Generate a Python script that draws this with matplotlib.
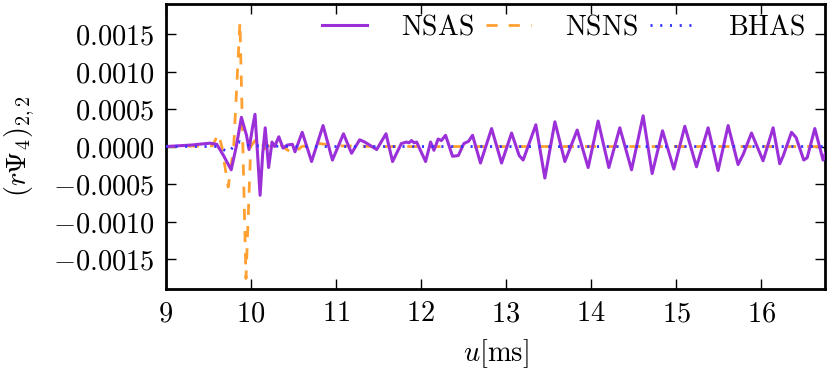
import numpy as np
import matplotlib
matplotlib.use('Agg')
import matplotlib.pyplot as plt
from matplotlib.ticker import FuncFormatter, MultipleLocator

plt.rcParams['mathtext.fontset'] = 'cm'
plt.rcParams['font.family'] = 'serif'
plt.rcParams['lines.scale_dashes'] = False

# waveforms, values in units of 1e-4
u_nsas = [9.00, 9.30, 9.52, 9.60, 9.68, 9.77, 9.83, 9.89, 9.95, 9.98, 10.02, 10.05,
          10.08, 10.11, 10.14, 10.17, 10.21, 10.25, 10.28, 10.33, 10.38, 10.43, 10.49,
          10.52, 10.605, 10.715, 10.85, 10.96, 11.09, 11.185, 11.28, 11.34, 11.48,
          11.59, 11.667, 11.77, 11.83, 11.86, 11.89, 11.92, 11.95, 12.055, 12.114,
          12.153, 12.203, 12.24, 12.29, 12.372, 12.44, 12.505, 12.56, 12.607, 12.70,
          12.831, 12.948, 13.066, 13.155, 13.202, 13.351, 13.457, 13.575, 13.692,
          13.837, 13.966, 14.083, 14.209, 14.338, 14.476, 14.612, 14.718, 14.84,
          14.973, 15.102, 15.239, 15.376, 15.493, 15.611, 15.728, 15.79, 15.886,
          16.022, 16.14, 16.218, 16.26, 16.356, 16.41, 16.50, 16.54, 16.63, 16.727,
          16.80]
v_nsas = [0.0, 0.2, 0.45, 0.3, -1.2, -3.1, 0.0, 3.9, 1.5, -0.4, 2.5, 4.3,
          -1.0, -6.5, -1.0, 2.5, -2.8, 0.6, 0.0, 1.3, -0.2, 0.2, 0.3,
          -0.7, 1.9, -2.0, 2.8, -1.8, 1.7, -0.9, 0.9, 0.6, -0.4,
          1.7, -2.0, 0.4, 0.6, 0.5, 0.8, 0.5, 0.6, -2.0, 0.6,
          -0.5, 1.0, 0.8, 1.5, -1.3, -1.2, 0.4, 0.7, 1.5, -2.2,
          2.4, -2.2, 1.8, -1.2, -1.8, 2.9, -4.2, 3.3, -2.0,
          2.2, -2.8, 3.4, -2.8, 2.5, -3.1, 4.1, -3.6, 2.1,
          -3.0, 2.7, -2.7, 2.5, -3.2, 2.8, -2.4, -1.0, 1.8,
          -1.9, 2.5, -2.3, -1.2, 1.9, 1.2, -1.8, -1.5, 2.4, -1.8,
          0.5]

u_nsns = [9.00, 9.55, 9.62, 9.66, 9.735, 9.80, 9.873, 9.944, 10.00, 10.05, 10.11,
          10.16, 10.25, 10.35, 10.50, 10.60, 10.81, 11.0, 11.5, 16.8]
v_nsns = [0.0, 0.1, 1.7, 0.0, -5.4, 0.0, 16.6, -17.6, 0.0, 0.8, 1.2,
          -0.3, 0.4, 0.2, -1.0, 0.0, 0.4, 0.1, 0.0, 0.0]

u_bhas = [9.0, 9.60, 9.66, 9.735, 9.80, 9.873, 9.95, 10.05, 10.5, 16.8]
v_bhas = [0.0, 0.0, -0.3, -0.75, 0.0, 0.65, 0.2, 0.1, 0.0, 0.0]

labels = ['NSAS', 'NSNS', 'BHAS']

fig = plt.figure(figsize=(8.3, 3.71), dpi=100)
ax = fig.add_axes([0.1996, 0.221, 0.7944, 0.768])

ax.plot(u_nsas, np.array(v_nsas) * 1e-4, color='#9b30d9', lw=2.2,
        label=r'$\mathrm{%s}$' % labels[0], zorder=3, solid_joinstyle='round')
ax.plot(u_nsns, np.array(v_nsns) * 1e-4, color='#ffa030', lw=2.0, dashes=(8, 8),
        label=r'$\mathrm{%s}$' % labels[1], zorder=2)
ax.plot(u_bhas, np.array(v_bhas) * 1e-4, color='#3333ff', lw=2.0, dashes=(1.5, 5.5),
        label=r'$\mathrm{%s}$' % labels[2], zorder=4)

ax.set_xlim(9, 16.75)
ax.set_ylim(-0.0019, 0.0019)
ax.xaxis.set_major_locator(MultipleLocator(1))
ax.yaxis.set_major_locator(MultipleLocator(0.0005))
ax.xaxis.set_major_formatter(FuncFormatter(lambda v, p: r'$%d$' % round(v)))
ax.yaxis.set_major_formatter(FuncFormatter(lambda v, p: r'$%.4f$' % (0 if abs(v) < 1e-12 else v)))

ax.tick_params(direction='in', top=True, right=True, length=7, width=1,
               labelsize=20.5, pad=8)
for s in ax.spines.values():
    s.set_linewidth(2)

ax.set_xlabel(r'$u[\mathrm{ms}]$', fontsize=20.5, labelpad=7)
ax.set_ylabel(r'$(r\Psi_4)_{2,2}$', fontsize=20.5, labelpad=11)

ax.legend(loc='upper right', bbox_to_anchor=(1.0, 1.035), ncol=3, frameon=False,
          fontsize=20, handlelength=1.62, handletextpad=1.22, columnspacing=0.43,
          borderpad=0.3, borderaxespad=0.4)

fig.savefig('out.png', dpi=100)
